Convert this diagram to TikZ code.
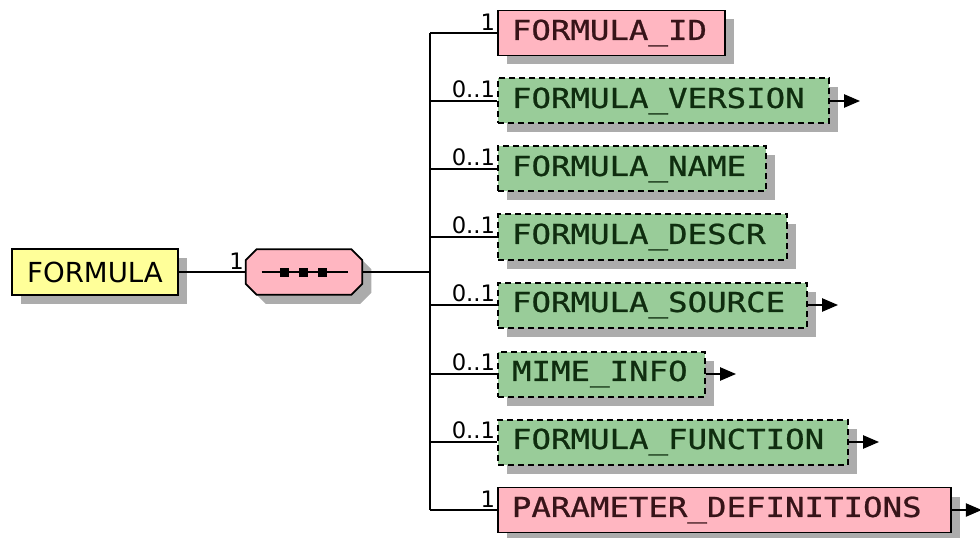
\documentclass[tikz,border=0pt]{standalone}
\usepackage{fontspec}
\setmainfont{DejaVu Sans}
\newfontfamily\boxfont[FakeStretch=1.18,FakeBold=0.8]{DejaVu Sans Mono}
\newfontfamily\multfont{DejaVu Sans}
\usetikzlibrary{arrows.meta,shadows}
\definecolor{pinkfill}{RGB}{255,182,193}
\definecolor{greenfill}{RGB}{153,204,153}
\definecolor{yellowfill}{RGB}{255,255,153}
\definecolor{shadowgray}{RGB}{172,172,172}
\definecolor{pinktext}{RGB}{55,20,25}
\definecolor{greentext}{RGB}{15,45,15}
\tikzset{
  shadowed/.style={drop shadow={shadow xshift=6.75pt, shadow yshift=-6.75pt, fill=shadowgray, opacity=1}},
  elem/.style={draw, line width=1.3pt, anchor=west, minimum height=33.75pt,
    inner xsep=10.5pt, inner ysep=2pt, align=left, shadowed,
    font=\boxfont\fontsize{20.6}{24}\selectfont},
  reqbox/.style={elem, fill=pinkfill, text=pinktext},
  optbox/.style={elem, fill=greenfill, text=greentext, line width=1.5pt, dash pattern=on 4.5pt off 3pt},
  rootbox/.style={draw, line width=1.3pt, fill=yellowfill, minimum width=124.5pt,
    minimum height=34.5pt, inner sep=0pt, shadowed,
    font=\fontsize{20.7}{24}\selectfont},
  mult/.style={anchor=south east, inner sep=0.5pt, font=\multfont\fontsize{17}{19}\selectfont},
  conn/.style={line width=1.1pt},
  arr/.style={line width=1.1pt, -{Triangle[length=12pt,width=10pt]}}
}
\begin{document}
\begin{tikzpicture}[x=0.75pt,y=-0.75pt]
\useasboundingbox (0,0) rectangle (980,538);
% root
\node[rootbox] (root) at (95,272) {FORMULA};
% sequence compositor
\node[minimum width=87pt, minimum height=33.75pt, inner sep=0pt] (seq) at (304,272) {};
\fill[shadowgray] ([shift={(20,9)}]seq.north west) -- ([shift={(-2,9)}]seq.north east)
  -- ([shift={(9,20)}]seq.north east) -- ([shift={(9,-2)}]seq.south east)
  -- ([shift={(-2,9)}]seq.south east) -- ([shift={(20,9)}]seq.south west)
  -- ([shift={(9,-2)}]seq.south west) -- ([shift={(9,20)}]seq.north west) -- cycle;
\draw[line width=1.3pt, fill=pinkfill] ([shift={(11,0)}]seq.north west) -- ([shift={(-11,0)}]seq.north east)
  -- ([shift={(0,11)}]seq.north east) -- ([shift={(0,-11)}]seq.south east)
  -- ([shift={(-11,0)}]seq.south east) -- ([shift={(11,0)}]seq.south west)
  -- ([shift={(0,-11)}]seq.south west) -- ([shift={(0,11)}]seq.north west) -- cycle;
\draw[line width=1.1pt] ([xshift=12pt]seq.west) -- ([xshift=-10.5pt]seq.east);
\foreach \sx in {284,303,322}{
  \fill (\sx-4.5,267.5) rectangle (\sx+4.5,276.5);
}
\node[mult] (mseq) at ([shift={(-1,-2)}]seq.west) {1};
\draw[conn] (root.east) -- (seq.west);
\coordinate (bus) at (430,272);
\draw[conn] (seq.east) -- (bus);
% children
\node[reqbox, text width=149.25pt] (fid) at (497,33) {FORMULA\_ID};
\node[optbox, text width=227.25pt] (fver) at (497,101) {FORMULA\_VERSION};
\node[optbox, text width=180pt] (fname) at (497,169) {FORMULA\_NAME};
\node[optbox, text width=195.75pt] (fdescr) at (497,237) {FORMULA\_DESCR};
\node[optbox, text width=210.75pt] (fsrc) at (497,305) {FORMULA\_SOURCE};
\node[optbox, text width=134.25pt] (mime) at (497,374) {MIME\_INFO};
\node[optbox, text width=241.5pt] (ffun) at (497,442) {FORMULA\_FUNCTION};
\node[reqbox, text width=318.75pt] (param) at (497,510) {PARAMETER\_DEFINITIONS};
% bus
\draw[conn] (fid.west -| bus) -- (param.west -| bus);
\foreach \n in {fid,fver,fname,fdescr,fsrc,mime,ffun,param}{
  \draw[conn] (\n.west -| bus) -- (\n.west);
}
% multiplicities
\node[mult] (mfid) at ([shift={(-1,-2)}]fid.west) {1};
\node[mult] (mfver) at ([shift={(-1,-2)}]fver.west) {0..1};
\node[mult] (mfname) at ([shift={(-1,-2)}]fname.west) {0..1};
\node[mult] (mfdescr) at ([shift={(-1,-2)}]fdescr.west) {0..1};
\node[mult] (mfsrc) at ([shift={(-1,-2)}]fsrc.west) {0..1};
\node[mult] (mmime) at ([shift={(-1,-2)}]mime.west) {0..1};
\node[mult] (mffun) at ([shift={(-1,-2)}]ffun.west) {0..1};
\node[mult] (mparam) at ([shift={(-1,-2)}]param.west) {1};
% expansion arrows
\foreach \n in {fver,fsrc,mime,ffun,param}{
  \coordinate (\n-e) at ([xshift=22.5pt]\n.east);
  \draw[arr] (\n.east) -- (\n-e);
}
\end{tikzpicture}
\end{document}
